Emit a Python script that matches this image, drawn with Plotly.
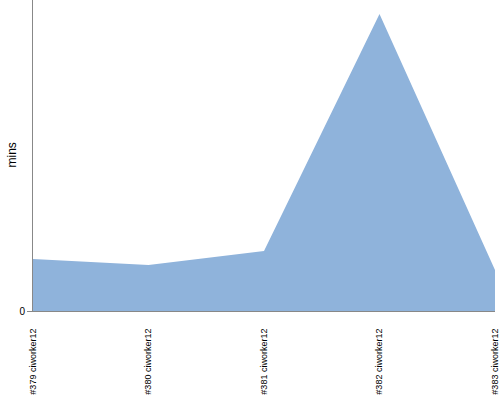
import plotly.graph_objects as go

categories = ["#379 ciworker12", "#380 ciworker12", "#381 ciworker12", "#382 ciworker12", "#383 ciworker12"]
minutes = [5.2, 4.6, 6.0, 29.7, 4.1]

fig = go.Figure()
fig.add_trace(go.Scatter(
    x=categories, y=minutes, mode="lines", fill="tozeroy",
    line=dict(color="#8fb3db", width=0), fillcolor="#8fb3db",
    hoverinfo="skip",
))
fig.update_layout(
    width=500, height=400,
    margin=dict(l=33, r=5, t=0, b=89),
    paper_bgcolor="white", plot_bgcolor="white",
    showlegend=False,
    font=dict(family="Liberation Sans, sans-serif", size=10, color="#000"),
    annotations=[dict(
        text="mins", textangle=-90, showarrow=False,
        xref="paper", yref="paper", x=0, y=0.5, xanchor="center", yanchor="middle",
        xshift=-22, font=dict(size=12),
    )],
)
fig.update_xaxes(
    type="category", range=[0, 4], tickangle=-90, automargin=False,
    showline=True, linecolor="#888", linewidth=1,
    showgrid=False, zeroline=False,
    ticks="outside", ticklen=13, tickcolor="rgba(0,0,0,0)",
    tickfont=dict(size=9),
)
fig.update_yaxes(
    range=[0, 31.1], tickvals=[0], ticktext=["0"], automargin=False,
    showline=True, linecolor="#888", linewidth=1,
    showgrid=False, zeroline=False,
    ticks="outside", ticklen=5, tickcolor="#888",
    tickfont=dict(size=10),
)
fig.write_html("out.html", config={"displayModeBar": False},
               post_script="document.body.style.margin='0';document.body.style.overflow='hidden';")
